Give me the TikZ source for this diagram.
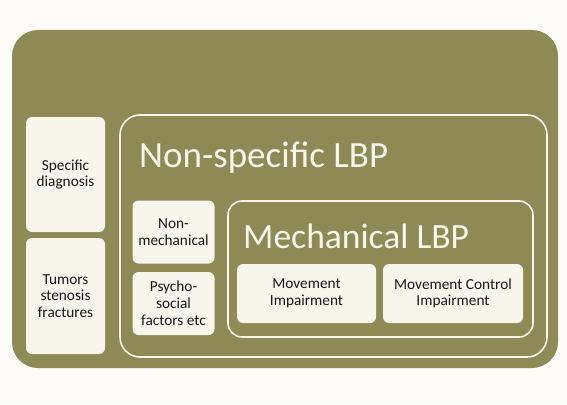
\documentclass[tikz,border=0pt]{standalone}
\usepackage{fontspec}
\setmainfont{Carlito}
\usetikzlibrary{positioning}

\definecolor{lbpolive}{HTML}{8E8A55}
\definecolor{lbpcream}{HTML}{F8F5EC}
\definecolor{lbppaper}{HTML}{FCFBF7}

\begin{document}
\begin{tikzpicture}[x=1pt, y=-1pt,
    box/.style={fill=lbpcream, rounded corners=6pt, align=center,
      text=black!90, font=\fontsize{15.3}{16.8}\selectfont, inner sep=2pt},
    frame/.style={draw=lbpcream, line width=1.6pt, rounded corners=#1},
    title/.style={text=lbpcream, font=\fontsize{37}{42}\selectfont, inner sep=0pt, anchor=base west}]
  % Background
  \useasboundingbox[fill=lbppaper] (0,0) rectangle (567,404);
  \fill[lbpolive, rounded corners=26pt] (12,30) rectangle (558,368);

  % Specific LBP
  \node[box, minimum width=79pt, minimum height=115pt] (spec) at (65.5,174.5)
    {Specific\\diagnosis};
  \node[box, minimum width=79pt, minimum height=116pt] (tumor) at (65.5,296)
    {Tumors\\stenosis\\fractures};

  % Non-specific LBP
  \draw[frame=20pt] (120,115) rectangle (547,357);
  \node[title] (nonspec) at (139,167) {Non-specific LBP};
  \node[box, minimum width=82pt, minimum height=63pt] (nonmech) at (173.5,232)
    {Non-\\mechanical};
  \node[box, minimum width=82pt, minimum height=63pt] (psycho) at (173.5,303.5)
    {Psycho-\\social\\factors etc};

  % Mechanical LBP
  \draw[frame=14pt] (228,201) rectangle (533,337);
  \node[title, font=\fontsize{35.5}{40}\selectfont] (mech) at (243,248) {Mechanical LBP};
  \node[box, minimum width=139pt, minimum height=59pt] (mi) at (306.5,293.5)
    {Movement\\Impairment};
  \node[box, minimum width=140pt, minimum height=59pt] (mci) at (453,293.5)
    {Movement Control\\Impairment};
\end{tikzpicture}
\end{document}
